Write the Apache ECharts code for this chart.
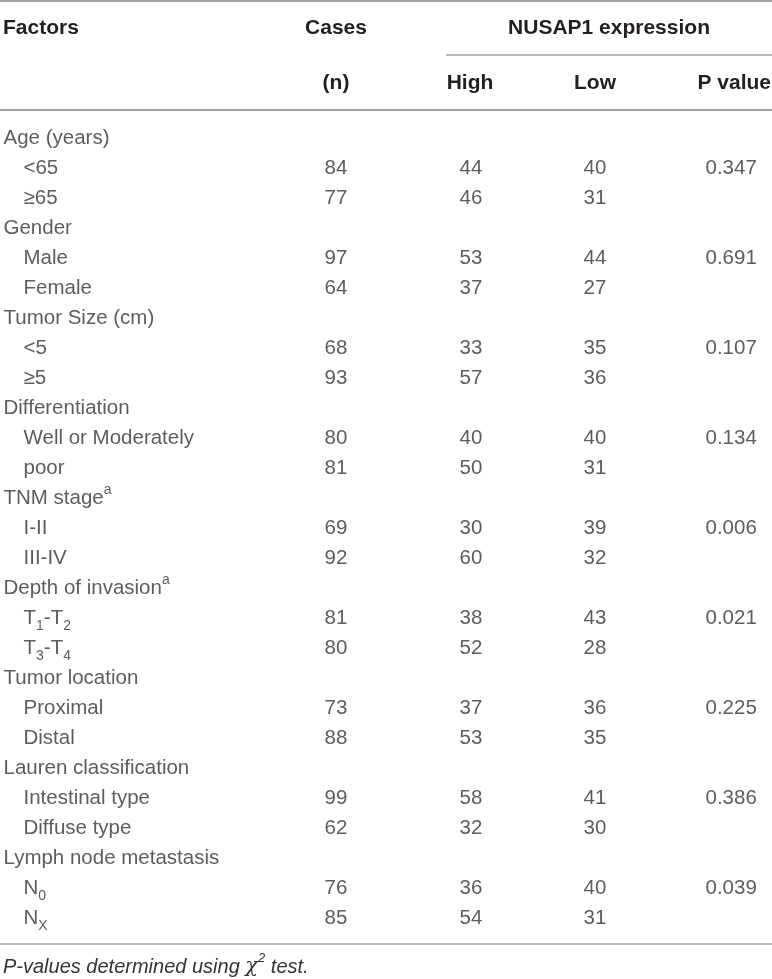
<!DOCTYPE html>
<html>
<head>
<meta charset="utf-8">
<script src="https://cdn.jsdelivr.net/npm/echarts@6/dist/echarts.min.js"></script>
<style>
  html, body { margin: 0; padding: 0; background: #fff; }
  #main { width: 772px; height: 979px; }
</style>
</head>
<body>
<div id="main"></div>
<script>
// table data
var factorNames = ['Age (years)', 'Gender', 'Tumor Size (cm)', 'Differentiation', 'TNM stage{sup|a}',
  'Depth of invasion{sup|a}', 'Tumor location', 'Lauren classification', 'Lymph node metastasis'];
var levelNames = [['<65', '≥65'], ['Male', 'Female'], ['<5', '≥5'], ['Well or Moderately', 'poor'],
  ['I-II', 'III-IV'], ['T{sub|1}-T{sub|2}', 'T{sub|3}-T{sub|4}'], ['Proximal', 'Distal'],
  ['Intestinal type', 'Diffuse type'], ['N{sub|0}', 'N{sub|X}']];
var cases = [[84, 77], [97, 64], [68, 93], [80, 81], [69, 92], [81, 80], [73, 88], [99, 62], [76, 85]];
var high = [[44, 46], [53, 37], [33, 57], [40, 50], [30, 60], [38, 52], [37, 53], [58, 32], [36, 54]];
var low = [[40, 31], [44, 27], [35, 36], [40, 31], [39, 32], [43, 28], [36, 35], [41, 30], [40, 31]];
var pValues = ['0.347', '0.691', '0.107', '0.134', '0.006', '0.021', '0.225', '0.386', '0.039'];

// column left edges on the x scale (0..772)
var colX = { factor: 3, level: 23, cases: 324, high: 459, low: 583, p: 705 };

var rows = [];
var factorData = [], casesData = [], highData = [], lowData = [], pData = [];
factorNames.forEach(function (f, i) {
  factorData.push([colX.factor, rows.length, f]);
  rows.push('f' + i);
  levelNames[i].forEach(function (lv, j) {
    var r = rows.length;
    factorData.push([colX.level, r, lv]);
    casesData.push([colX.cases, r, cases[i][j]]);
    highData.push([colX.high, r, high[i][j]]);
    lowData.push([colX.low, r, low[i][j]]);
    if (j === 0) pData.push([colX.p, r, pValues[i]]);
    rows.push('f' + i + 'l' + j);
  });
});

var bodyFont = '"Liberation Sans", Arial, sans-serif';
var textColor = '#333333';
var lineColor = '#a3a3a3';

var cellLabel = {
  show: true,
  position: 'right',
  distance: 0,
  fontFamily: bodyFont,
  fontSize: 20.5,
  lineHeight: 30,
  color: textColor,
  formatter: function (p) { return p.value[2]; },
  rich: {
    sub: { fontFamily: bodyFont, fontSize: 14, lineHeight: 19, verticalAlign: 'bottom', color: textColor },
    sup: { fontFamily: bodyFont, fontSize: 14, lineHeight: 22, verticalAlign: 'top', color: textColor }
  }
};

function cellSeries(data) {
  return {
    type: 'scatter',
    data: data,
    symbolSize: 1,
    itemStyle: { color: 'transparent' },
    label: cellLabel,
    silent: true
  };
}

var headStyle = { fontFamily: bodyFont, fontSize: 21, fontWeight: 'bold', fill: '#231f20' };
function head(text, x, y, align) {
  return { type: 'text', x: x, y: y,
    style: Object.assign({ text: text, textAlign: align, textVerticalAlign: 'middle' }, headStyle) };
}
function rule(x1, x2, y, w) {
  return { type: 'line', shape: { x1: x1, y1: y, x2: x2, y2: y }, style: { stroke: lineColor, lineWidth: w } };
}

var chart = echarts.init(document.getElementById('main'));
chart.setOption({
  animation: false,
  grid: { left: 0, right: 0, top: 123, bottom: 46 },
  xAxis: { type: 'value', min: 0, max: 772, show: false },
  yAxis: { type: 'category', data: rows, inverse: true, show: false },
  series: [cellSeries(factorData), cellSeries(casesData), cellSeries(highData), cellSeries(lowData), cellSeries(pData)],
  graphic: [
    rule(0, 772, 1, 2),
    rule(446, 772, 55, 1.5),
    rule(0, 772, 110, 2),
    rule(0, 772, 944, 1.5),
    head('Factors', 3, 28, 'left'),
    head('Cases', 336, 28, 'center'),
    head('NUSAP1 expression', 609, 28, 'center'),
    head('(n)', 336, 83, 'center'),
    head('High', 470, 83, 'center'),
    head('Low', 595, 83, 'center'),
    head('P value', 771, 83, 'right'),
    {
      type: 'text', x: 3, y: 967,
      style: {
        text: 'P-values determined using {chi|χ}{sup|2} test.',
        fontFamily: bodyFont, fontSize: 20, fontStyle: 'italic', fill: textColor,
        textVerticalAlign: 'middle', lineHeight: 30,
        rich: {
          chi: { fontFamily: '"DejaVu Serif", serif', fontSize: 21, fontStyle: 'italic', lineHeight: 30 },
          sup: { fontFamily: bodyFont, fontSize: 13, fontStyle: 'italic', lineHeight: 20, verticalAlign: 'top' }
        }
      }
    }
  ]
});
</script>
</body>
</html>
